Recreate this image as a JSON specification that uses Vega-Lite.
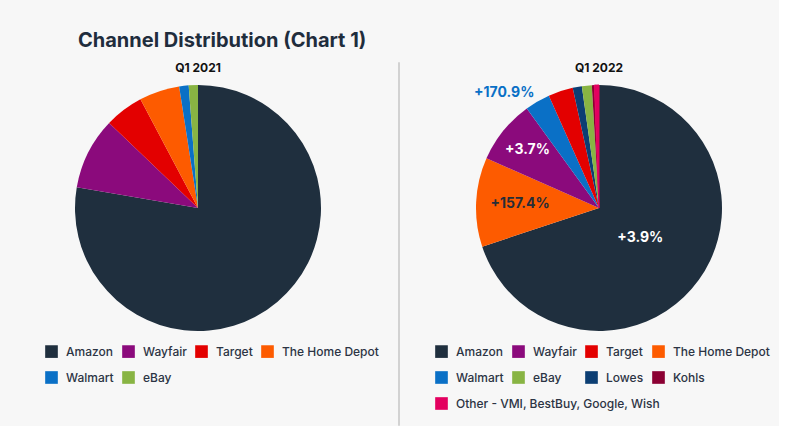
{
  "$schema": "https://vega.github.io/schema/vega-lite/v6.json",
  "background": "#f7f7f7",
  "padding": {"left": 18, "top": 30, "right": 0, "bottom": 0},
  "title": {"text": "Channel Distribution (Chart 1)", "anchor": "start", "dx": 60, "offset": -5, "font": "Inter", "fontSize": 20, "fontWeight": "bold", "color": "#1f2d3d", "baseline": "alphabetic"},
  "datasets": {
    "q2021": [
      {"channel": "Amazon", "share": 77.7},
      {"channel": "Wayfair", "share": 9.45},
      {"channel": "Target", "share": 5.1},
      {"channel": "The Home Depot", "share": 5.3},
      {"channel": "Walmart", "share": 1.24},
      {"channel": "eBay", "share": 1.21}
    ],
    "q2022": [
      {"channel": "Amazon", "share": 69.9, "growth": "+3.9%"},
      {"channel": "The Home Depot", "share": 11.7, "growth": "+157.4%"},
      {"channel": "Wayfair", "share": 8.4, "growth": "+3.7%"},
      {"channel": "Walmart", "share": 3.3, "growth": "+170.9%"},
      {"channel": "Target", "share": 3.25},
      {"channel": "Lowes", "share": 1.2},
      {"channel": "eBay", "share": 1.3},
      {"channel": "Kohls", "share": 0.33},
      {"channel": "Other - VMI, BestBuy, Google, Wish", "share": 0.6}
    ]
  },
  "spacing": 20,
  "bounds": "flush",
  "hconcat": [
    {
      "width": 360,
      "height": 292,
      "title": {"text": "Q1 2021", "offset": -22, "frame": "group", "font": "Inter", "fontSize": 12, "fontWeight": "bold", "color": "#111111", "baseline": "alphabetic", "anchor": "middle"},
      "data": {"name": "q2021"},
      "transform": [{"window": [{"op": "row_number", "as": "idx"}]}],
      "mark": {"type": "arc", "outerRadius": 123},
      "encoding": {
        "theta": {"field": "share", "type": "quantitative", "stack": true},
        "order": {"field": "idx", "type": "quantitative"},
        "color": {
          "field": "channel",
          "type": "nominal",
          "scale": {
            "domain": ["Amazon", "Wayfair", "Target", "The Home Depot", "Walmart", "eBay"],
            "range": ["#1f2f3e", "#8b0a7c", "#e30000", "#fd5b00", "#0a70c6", "#88b443"]
          },
          "legend": {"orient": "none", "legendX": 27, "legendY": 283, "direction": "horizontal", "columns": 4, "title": null}
        }
      }
    },
    {
      "width": 1,
      "height": 363,
      "data": {"values": [{}]},
      "mark": {"type": "point", "opacity": 0},
      "encoding": {},
      "view": {"stroke": "#d2d2d2", "strokeWidth": 1}
    },
    {
      "width": 360,
      "height": 292,
      "title": {"text": "Q1 2022", "offset": -22, "frame": "group", "font": "Inter", "fontSize": 12, "fontWeight": "bold", "color": "#111111", "baseline": "alphabetic", "anchor": "middle"},
      "data": {"name": "q2022"},
      "transform": [{"window": [{"op": "row_number", "as": "idx"}]}],
      "encoding": {
        "theta": {"field": "share", "type": "quantitative", "stack": true},
        "order": {"field": "idx", "type": "quantitative"}
      },
      "layer": [
        {
          "mark": {"type": "arc", "outerRadius": 123},
          "encoding": {
            "color": {
              "field": "channel",
              "type": "nominal",
              "scale": {
                "domain": ["Amazon", "Wayfair", "Target", "The Home Depot", "Walmart", "eBay", "Lowes", "Kohls", "Other - VMI, BestBuy, Google, Wish"],
                "range": ["#1f2f3e", "#8b0a7c", "#e30000", "#fd5b00", "#0a70c6", "#88b443", "#0c3e73", "#8b0033", "#e3005f"]
              },
              "legend": {"orient": "none", "legendX": 16, "legendY": 283, "direction": "horizontal", "columns": 4, "title": null,
                "values": ["Amazon", "Wayfair", "Target", "The Home Depot", "Walmart", "eBay", "Lowes", "Kohls"]}
            },
            "stroke": {
              "field": "channel",
              "type": "nominal",
              "scale": {"domain": ["Other - VMI, BestBuy, Google, Wish"], "range": ["#e3005f"]},
              "legend": {"orient": "none", "legendX": 16, "legendY": 335, "title": null, "symbolFillColor": "#e3005f", "symbolStrokeColor": "#e3005f", "symbolStrokeWidth": 0}
            }
          }
        },
        {
          "mark": {"type": "text", "radius": 51, "font": "Inter", "fontWeight": "bold", "color": "#ffffff"},
          "encoding": {
            "detail": {"field": "channel", "type": "nominal"},
            "size": {"condition": {"test": "datum.channel === 'Amazon'", "value": 14}, "value": 0},
            "text": {"condition": {"test": "datum.channel === 'Amazon'", "field": "growth", "type": "nominal"}, "value": ""}
          }
        },
        {
          "mark": {"type": "text", "radius": 79, "font": "Inter", "fontWeight": "bold", "color": "#262d38"},
          "encoding": {
            "detail": {"field": "channel", "type": "nominal"},
            "size": {"condition": {"test": "datum.channel === 'The Home Depot'", "value": 14}, "value": 0},
            "text": {"condition": {"test": "datum.channel === 'The Home Depot'", "field": "growth", "type": "nominal"}, "value": ""}
          }
        },
        {
          "mark": {"type": "text", "radius": 92, "font": "Inter", "fontWeight": "bold", "color": "#ffffff"},
          "encoding": {
            "detail": {"field": "channel", "type": "nominal"},
            "size": {"condition": {"test": "datum.channel === 'Wayfair'", "value": 14}, "value": 0},
            "text": {"condition": {"test": "datum.channel === 'Wayfair'", "field": "growth", "type": "nominal"}, "value": ""}
          }
        },
        {
          "mark": {"type": "text", "radius": 149, "thetaOffset": -0.166, "font": "Inter", "fontWeight": "bold", "color": "#0a70c6"},
          "encoding": {
            "detail": {"field": "channel", "type": "nominal"},
            "size": {"condition": {"test": "datum.channel === 'Walmart'", "value": 14}, "value": 0},
            "text": {"condition": {"test": "datum.channel === 'Walmart'", "field": "growth", "type": "nominal"}, "value": ""}
          }
        }
      ]
    }
  ],
  "resolve": {
    "scale": {"color": "independent", "theta": "independent", "stroke": "independent"},
    "legend": {"color": "independent", "stroke": "independent"}
  },
  "config": {
    "view": {"stroke": null},
    "font": "Inter",
    "legend": {
      "symbolType": "square",
      "symbolSize": 160,
      "symbolStrokeWidth": 0,
      "symbolOpacity": 1,
      "labelFont": "Inter",
      "labelFontSize": 12,
      "labelFontWeight": 500,
      "labelColor": "#2c3444",
      "labelOffset": 8,
      "columnPadding": 8,
      "rowPadding": 13,
      "labelLimit": 400
    }
  }
}
